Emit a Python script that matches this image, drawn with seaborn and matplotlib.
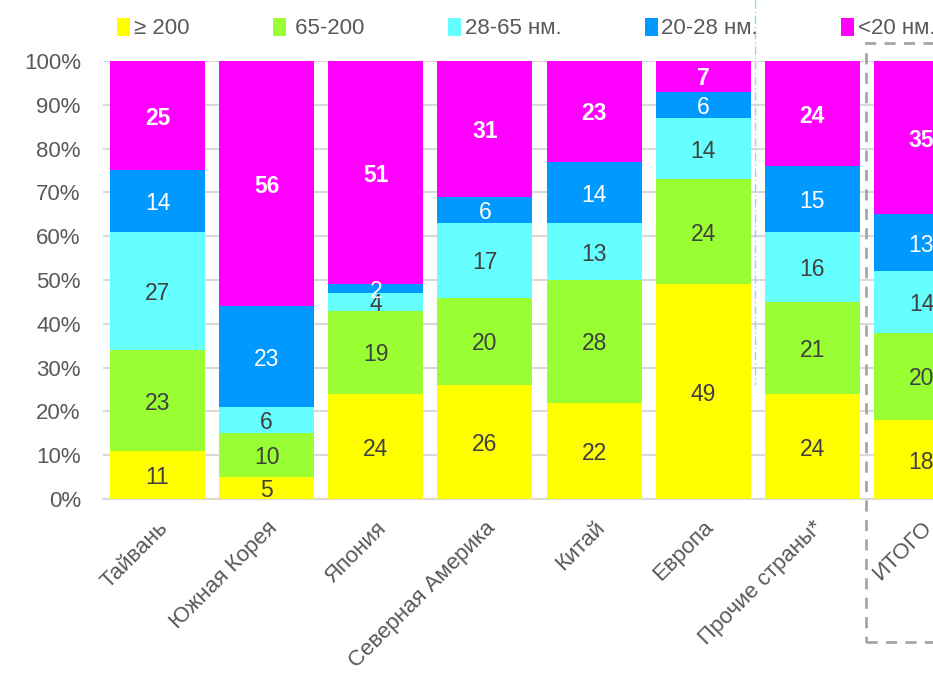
import matplotlib
matplotlib.use("Agg")
import matplotlib.pyplot as plt
from matplotlib.patches import Rectangle, Patch
import numpy as np
import pandas as pd
import seaborn as sns

sns.set_theme(style="white")
plt.rcParams["font.family"] = ["Liberation Sans", "DejaVu Sans"]

regions = ["Тайвань", "Южная Корея", "Япония", "Северная Америка",
           "Китай", "Европа", "Прочие страны*", "ИТОГО"]
series = ["≥ 200", " 65-200", "28-65 нм.", "20-28 нм.", "<20 нм."]
ge200 = [11, 5, 24, 26, 22, 49, 24, 18]
r65_200 = [23, 10, 19, 20, 28, 24, 21, 20]
r28_65 = [27, 6, 4, 17, 13, 14, 16, 14]
r20_28 = [14, 23, 2, 6, 14, 6, 15, 13]
lt20 = [25, 56, 51, 31, 23, 7, 24, 35]

colors = ["#FFFF00", "#99FF33", "#66FFFF", "#0099FF", "#FF00FF"]
label_colors = ["#404040", "#404040", "#404040", "white", "white"]
label_weights = ["normal", "normal", "normal", "normal", "bold"]

layers = [ge200, r65_200, r28_65, r20_28, lt20]
df = pd.DataFrame({"region": regions})
cum = np.cumsum(np.array(layers), axis=0)

fig = plt.figure(figsize=(9.33, 6.79), dpi=100)
ax = fig.add_axes([0.1104, 0.2651, 0.9357, 0.6451])

# stacked bars: draw cumulative totals from the top layer down
for i in range(len(layers) - 1, -1, -1):
    d = df.copy()
    d["value"] = cum[i]
    sns.barplot(data=d, x="region", y="value", color=colors[i],
                saturation=1, width=0.87, ax=ax, zorder=3,
                linewidth=0, edgecolor="none")

# segment labels
for i, vals in enumerate(layers):
    for j, v in enumerate(vals):
        center = cum[i][j] - v / 2
        ax.text(j, center - 0.6, str(v), ha="center", va="center",
                fontsize=16.5, color=label_colors[i],
                fontweight=label_weights[i], zorder=5)

ax.set_xlim(-0.5, 7.5)
ax.set_ylim(0, 100)
ax.set_yticks(range(0, 101, 10))
ax.set_yticklabels([f"{t}%" for t in range(0, 101, 10)],
                   fontsize=16, color="#595959")
ax.yaxis.grid(True, color="#D9D9D9", linewidth=1.5, zorder=0)
ax.set_axisbelow(True)
ax.set_xlabel("")
ax.set_ylabel("")
ax.tick_params(axis="y", length=0, pad=16)
ax.tick_params(axis="x", length=0, pad=13)
ax.set_xticks(range(len(regions)))
ax.set_xticklabels(regions, rotation=45, ha="right", rotation_mode="anchor",
                   fontsize=16, color="#595959")
for s in ["top", "right", "left"]:
    ax.spines[s].set_visible(False)
ax.spines["bottom"].set_color("#D9D9D9")
ax.spines["bottom"].set_linewidth(1.5)

# legend along the top
handles = [Patch(facecolor=c, edgecolor="none") for c in colors]
fig.legend(handles, series, loc="center left", bbox_to_anchor=(0.104, 0.958),
           ncol=5, frameon=False, fontsize=16, handlelength=0.6,
           handleheight=0.9, handletextpad=0.15, columnspacing=3.75,
           labelcolor="#595959")

# dashed frame around the total column
fig.patches.append(Rectangle((866 / 933, 1 - 642 / 679), 0.2, (642 - 43) / 679,
                             transform=fig.transFigure, fill=False,
                             edgecolor="#A6A6A6", linewidth=2,
                             linestyle=(0, (4, 3)), zorder=10))
# thin separator line
fig.add_artist(plt.Line2D([755 / 933, 755 / 933], [1.0, 1 - 385 / 679],
                          transform=fig.transFigure, color="#9DD3EA",
                          linewidth=1, linestyle=(0, (6, 2, 1, 2))))

fig.savefig("out.png", dpi=100)
